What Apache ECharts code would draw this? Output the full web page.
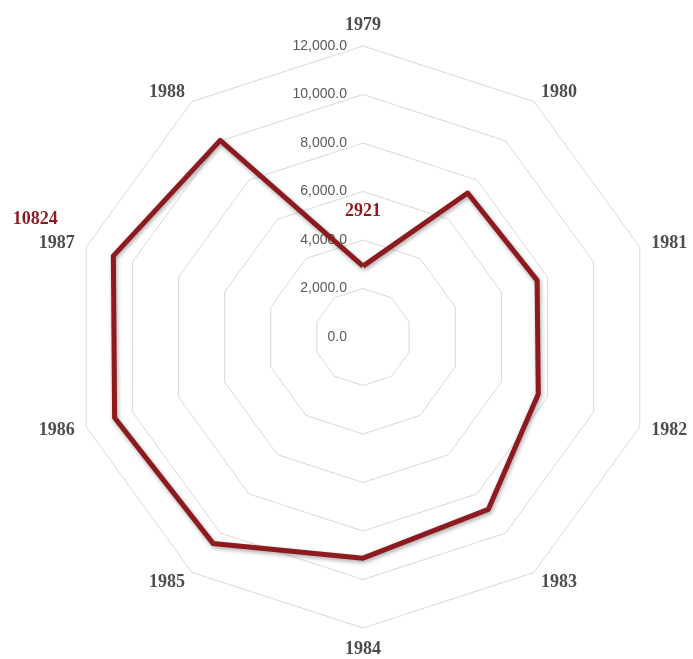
<!DOCTYPE html>
<html>
<head>
<meta charset="utf-8">
<style>
  html, body { margin: 0; padding: 0; background: #fff; }
  #chart { width: 693px; height: 659px; }
</style>
<script src="https://cdn.jsdelivr.net/npm/echarts@6/dist/echarts.min.js"></script>
</head>
<body>
<div id="chart"></div>
<script>
const years = ['1979', '1980', '1981', '1982', '1983', '1984', '1985', '1986', '1987', '1988']
const values = [2921, 7340, 7550, 7600, 8790, 9120, 10520, 10770, 10824, 10020]
// years that carry a data label, and which rich style each uses
const labelled = { '1979': 'a', '1987': 'b' }
const axisMax = 12000
const splitCount = 6

const LINE_COLOR = '#8c1a1f'

// echarts lays radar axes out counter-clockwise, the chart runs clockwise
const order = [0].concat(years.map((_, i) => i).slice(1).reverse())
const axisYears = order.map(i => years[i])
const axisValues = order.map(i => values[i])

function fmtTick(v) {
  return Number(v).toLocaleString('en-US', { minimumFractionDigits: 1, maximumFractionDigits: 1 })
}

const chart = echarts.init(document.getElementById('chart'))

chart.setOption({
  animation: false,
  radar: {
    center: [363, 337],
    radius: 291,
    startAngle: 90,
    shape: 'polygon',
    splitNumber: splitCount,
    indicator: axisYears.map((y, i) => ({
      name: y,
      min: 0,
      max: axisMax,
      axisLabel: { show: i === 0 }
    })),
    axisName: {
      color: '#4d4d4d',
      fontFamily: 'Liberation Serif',
      fontWeight: 'bold',
      fontSize: 18
    },
    nameGap: 12,
    axisLine: { show: false },
    axisTick: { show: false },
    splitArea: { show: false },
    splitLine: { lineStyle: { color: '#d9d9d9', width: 1 } },
    axisLabel: {
      show: true,
      color: '#595959',
      fontFamily: 'Liberation Sans',
      fontSize: 14,
      margin: 16,
      formatter: fmtTick
    }
  },
  series: [{
    type: 'radar',
    symbol: 'circle',
    symbolSize: 0,
    itemStyle: { color: LINE_COLOR },
    lineStyle: {
      color: LINE_COLOR,
      width: 5,
      shadowBlur: 4,
      shadowColor: 'rgba(0,0,0,0.35)',
      shadowOffsetX: 1,
      shadowOffsetY: 2
    },
    label: {
      show: true,
      position: 'top',
      distance: 0,
      formatter: (p) => {
        let idx = p.dimensionIndex
        if (idx == null) idx = axisValues.indexOf(p.value)
        const style = labelled[axisYears[idx]]
        return style ? '{' + style + '|' + axisValues[idx] + '}' : ''
      },
      rich: {
        a: {
          color: LINE_COLOR,
          fontFamily: 'Liberation Serif',
          fontWeight: 'bold',
          fontSize: 18,
          padding: [0, 0, 46, 0]
        },
        b: {
          color: LINE_COLOR,
          fontFamily: 'Liberation Serif',
          fontWeight: 'bold',
          fontSize: 18,
          padding: [0, 156, 28, 0]
        }
      }
    },
    data: [{ value: axisValues, name: 'value' }]
  }]
})
</script>
</body>
</html>
